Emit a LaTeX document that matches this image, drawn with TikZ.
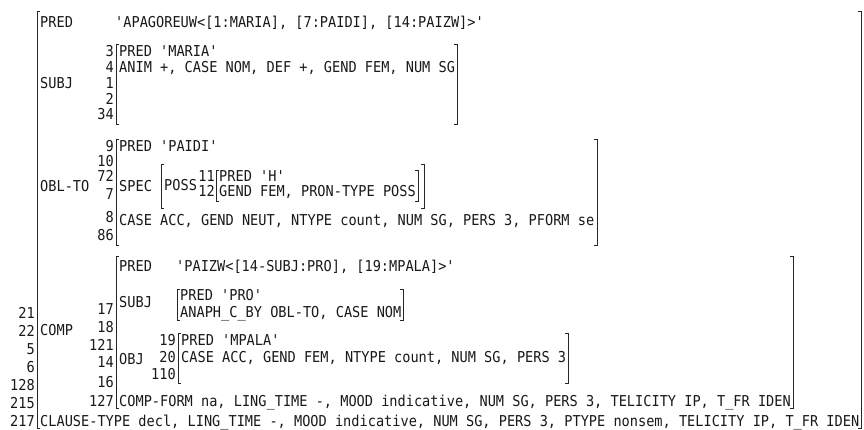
\documentclass[tikz,border=0pt]{standalone}
\usepackage{fontspec}
\setmonofont{DejaVu Sans Mono}[FakeStretch=0.907]
\newcommand\fsfont{\ttfamily\fontsize{15}{17}\selectfont}
\tikzset{
  ftxt/.style={font=\fsfont, inner sep=0pt, anchor=base west, text=black!90},
  fnum/.style={font=\fsfont, inner sep=0pt, anchor=base east, text=black!90},
  brk/.style={draw=black!85, line width=1pt}
}
\newcommand\fsL[3]{\draw[brk] (#1+3,#2) -- (#1,#2) -- (#1,#3) -- (#1+3,#3);}
\newcommand\fsR[3]{\draw[brk] (#1-3,#2) -- (#1,#2) -- (#1,#3) -- (#1-3,#3);}
\begin{document}
\begin{tikzpicture}[x=1pt,y=-1pt]
\fill[white] (0,0) rectangle (864,430);
\useasboundingbox (0,0) rectangle (864,430);
% outer f-structure
\fsL{37}{12}{428}
\fsR{861}{12}{428}
\node[fnum] (o21) at (35,318) {21};
\node[fnum] (o22) at (35,336) {22};
\node[fnum] (o5) at (35,354) {5};
\node[fnum] (o6) at (35,372) {6};
\node[fnum] (o128) at (35,390) {128};
\node[fnum] (o215) at (35,408) {215};
\node[fnum] (o217) at (35,426) {217};
\node[ftxt] (lpred) at (40,28) {PRED};
\node[ftxt] (lsubj) at (40,89) {SUBJ};
\node[ftxt] (lobl) at (40,192) {OBL-TO};
\node[ftxt] (lcomp) at (40,335) {COMP};
\node[ftxt] (lclause) at (40,426) {CLAUSE-TYPE decl, LING\_TIME -, MOOD indicative, NUM SG, PERS 3, PTYPE nonsem, TELICITY IP, T\_FR IDEN};
\node[ftxt] (vpred) at (115,28) {'APAGOREUW<[1:MARIA], [7:PAIDI], [14:PAIZW]>'};
% SUBJ
\fsL{116}{45}{125}
\fsR{457}{45}{125}
\node[fnum] (s3) at (114,57) {3};
\node[fnum] (s4) at (114,73) {4};
\node[fnum] (s1) at (114,89) {1};
\node[fnum] (s2) at (114,105) {2};
\node[fnum] (s34) at (114,120) {34};
\node[ftxt] (spred) at (119,57) {PRED 'MARIA'};
\node[ftxt] (sanim) at (119,73) {ANIM +, CASE NOM, DEF +, GEND FEM, NUM SG};
% OBL-TO
\fsL{116}{140}{246}
\fsR{597}{140}{246}
\node[fnum] (b9) at (114,152) {9};
\node[fnum] (b10) at (114,167) {10};
\node[fnum] (b72) at (114,182) {72};
\node[fnum] (b7) at (114,200) {7};
\node[fnum] (b8) at (114,223) {8};
\node[fnum] (b86) at (114,241) {86};
\node[ftxt] (bpred) at (119,152) {PRED 'PAIDI'};
\node[ftxt] (bspec) at (119,192) {SPEC};
\node[ftxt] (bcase) at (119,226) {CASE ACC, GEND NEUT, NTYPE count, NUM SG, PERS 3, PFORM se};
\fsL{161}{165}{209}
\fsR{424}{165}{209}
\node[ftxt] (bposs) at (164,191) {POSS};
\fsL{216}{171}{202}
\fsR{418}{171}{202}
\node[fnum] (p11) at (215,182) {11};
\node[fnum] (p12) at (215,197) {12};
\node[ftxt] (ppred) at (219,182) {PRED 'H'};
\node[ftxt] (pgend) at (219,197) {GEND FEM, PRON-TYPE POSS};
% COMP
\fsL{116}{257}{408}
\fsR{793}{257}{408}
\node[fnum] (c17) at (114,314) {17};
\node[fnum] (c18) at (114,332) {18};
\node[fnum] (c121) at (114,350) {121};
\node[fnum] (c14) at (114,367) {14};
\node[fnum] (c16) at (114,387) {16};
\node[fnum] (c127) at (114,406) {127};
\node[ftxt] (cpred) at (119,272) {PRED};
\node[ftxt] (cvpred) at (176,272) {'PAIZW<[14-SUBJ:PRO], [19:MPALA]>'};
\node[ftxt] (csubj) at (119,307) {SUBJ};
\fsL{177}{289}{320}
\fsR{403}{289}{320}
\node[ftxt] (cspred) at (180,300) {PRED 'PRO'};
\node[ftxt] (csanaph) at (180,317) {ANAPH\_C\_BY OBL-TO, CASE NOM};
\node[ftxt] (cobj) at (119,364) {OBJ};
\fsL{178}{333}{383}
\fsR{568}{333}{383}
\node[fnum] (j19) at (176,345) {19};
\node[fnum] (j20) at (176,362) {20};
\node[fnum] (j110) at (176,379) {110};
\node[ftxt] (jpred) at (181,345) {PRED 'MPALA'};
\node[ftxt] (jcase) at (181,362) {CASE ACC, GEND FEM, NTYPE count, NUM SG, PERS 3};
\node[ftxt] (cform) at (119,406) {COMP-FORM na, LING\_TIME -, MOOD indicative, NUM SG, PERS 3, TELICITY IP, T\_FR IDEN};
\end{tikzpicture}
\end{document}
